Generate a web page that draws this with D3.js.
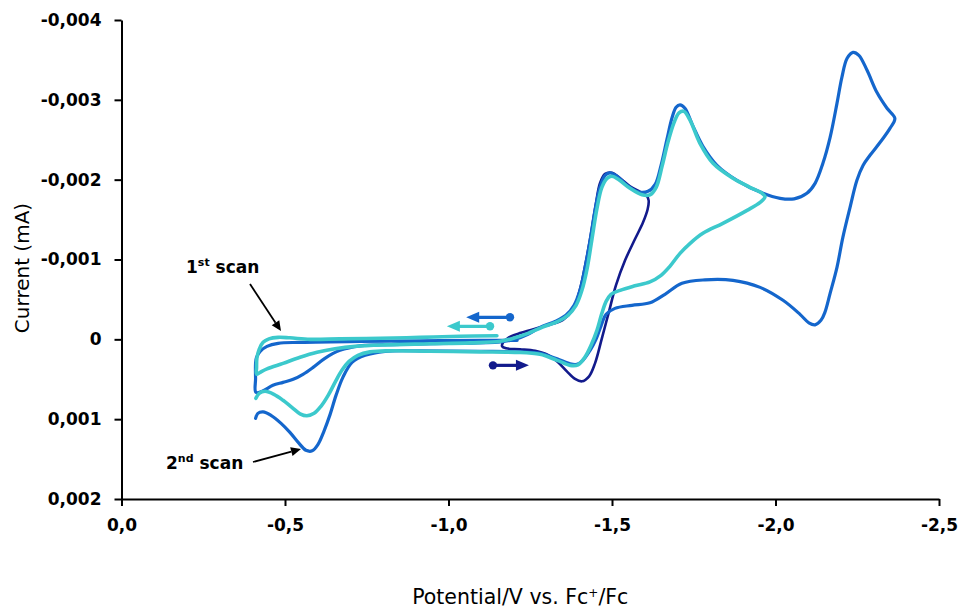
<!DOCTYPE html>
<html>
<head>
<meta charset="utf-8">
<script src="https://cdn.jsdelivr.net/npm/d3@7"></script>
<style>
  html, body { margin: 0; padding: 0; background: #fff; }
  svg { display: block; }
</style>
</head>
<body>
<svg id="chart" width="959" height="609"></svg>
<script>
// ---------------- data (potential in V vs Fc+/Fc, current in mA) ----------------
const xTicks = [0, -0.5, -1.0, -1.5, -2.0, -2.5];
const yTicks = [-0.004, -0.003, -0.002, -0.001, 0, 0.001, 0.002];

// scan reversed at -1.6 V
const navyScan = [
[-1.179,-0.000006],[-1.167,0.000038],[-1.164,0.000088],[-1.176,0.000113],[-1.219,0.000125],[-1.265,0.000144],[-1.304,0.000194],[-1.335,0.000288],[-1.362,0.000401],[-1.387,0.000495],[-1.408,0.000526],[-1.430,0.000463],[-1.448,0.000301],[-1.469,-0.000013],[-1.491,-0.000351],[-1.512,-0.000676],[-1.540,-0.000990],[-1.570,-0.001253],[-1.595,-0.001466],[-1.609,-0.001629],[-1.612,-0.001741],[-1.604,-0.001810],[-1.586,-0.001848],[-1.555,-0.001917],[-1.525,-0.002017],[-1.500,-0.002086],[-1.479,-0.002073],[-1.463,-0.001954],[-1.451,-0.001704],[-1.436,-0.001328],[-1.421,-0.000990],[-1.402,-0.000626],[-1.381,-0.000376],[-1.350,-0.000244],[-1.310,-0.000182],[-1.265,-0.000132],[-1.222,-0.000081],[-1.194,-0.000044],[-1.179,-0.000006]
];

// scan reversed at -2.36 V
const blueScan = [
[-1.210,0.000013],[-1.096,0.000013],[-0.913,0.000019],[-0.729,0.000025],[-0.546,0.000038],[-0.479,0.000050],[-0.445,0.000088],[-0.424,0.000150],[-0.413,0.000225],[-0.410,0.000300],
[-0.410,0.000489],[-0.411,0.000664],
[-0.430,0.000651],[-0.463,0.000576],[-0.494,0.000539],[-0.525,0.000501],[-0.555,0.000438],[-0.586,0.000351],[-0.622,0.000238],[-0.668,0.000138],[-0.729,0.000081],[-0.852,0.000063],[-1.005,0.000050],[-1.158,0.000031],[-1.203,0.000000],[-1.243,-0.000063],[-1.280,-0.000150],[-1.326,-0.000225],[-1.359,-0.000301],[-1.384,-0.000426],[-1.402,-0.000614],[-1.417,-0.000889],[-1.433,-0.001240],[-1.448,-0.001616],[-1.463,-0.001904],[-1.479,-0.002054],[-1.494,-0.002086],[-1.512,-0.002054],[-1.546,-0.001929],[-1.580,-0.001848],[-1.610,-0.001854],[-1.632,-0.001942],[-1.650,-0.002180],[-1.668,-0.002505],[-1.684,-0.002781],[-1.696,-0.002906],[-1.708,-0.002938],[-1.723,-0.002894],[-1.748,-0.002668],[-1.778,-0.002418],[-1.821,-0.002180],[-1.882,-0.001992],[-1.962,-0.001829],[-2.014,-0.001766],[-2.057,-0.001760],[-2.096,-0.001829],[-2.121,-0.001954],[-2.145,-0.002205],[-2.167,-0.002530],[-2.188,-0.002956],[-2.203,-0.003282],[-2.219,-0.003520],[-2.237,-0.003595],[-2.255,-0.003558],[-2.280,-0.003370],[-2.310,-0.003094],[-2.341,-0.002894],[-2.365,-0.002768],[-2.350,-0.002643],[-2.320,-0.002468],[-2.289,-0.002305],[-2.268,-0.002180],[-2.249,-0.001992],[-2.228,-0.001654],[-2.206,-0.001278],[-2.188,-0.000902],[-2.167,-0.000576],[-2.151,-0.000338],[-2.139,-0.000238],[-2.121,-0.000182],[-2.102,-0.000207],[-2.075,-0.000313],[-2.023,-0.000489],[-1.953,-0.000651],[-1.870,-0.000739],[-1.784,-0.000745],[-1.714,-0.000702],[-1.662,-0.000564],[-1.616,-0.000457],[-1.561,-0.000426],[-1.509,-0.000388],[-1.482,-0.000313],[-1.466,-0.000163],[-1.451,0.000000],[-1.433,0.000138],[-1.411,0.000263],[-1.393,0.000313],[-1.372,0.000307],[-1.332,0.000244],[-1.280,0.000175],[-1.219,0.000157],[-1.096,0.000150],[-0.913,0.000144],[-0.806,0.000150],[-0.745,0.000200],[-0.705,0.000288],[-0.677,0.000476],[-0.656,0.000702],[-0.638,0.000940],[-0.619,0.001152],[-0.601,0.001315],[-0.583,0.001397],[-0.564,0.001390],[-0.543,0.001303],[-0.515,0.001165],[-0.488,0.001052],[-0.457,0.000952],[-0.433,0.000908],[-0.417,0.000927],[-0.410,0.000990]
];

// scan reversed at -1.96 V
const tealScan = [
[-1.148,-0.000044],[-1.035,-0.000038],[-0.913,-0.000025],[-0.791,-0.000013],[-0.668,-0.000006],[-0.577,0.000000],[-0.515,-0.000019],[-0.479,-0.000025],[-0.451,-0.000006],[-0.433,0.000038],[-0.421,0.000125],[-0.414,0.000238],[-0.413,0.000351],[-0.413,0.000438],
[-0.424,0.000413],[-0.445,0.000370],[-0.494,0.000301],[-0.546,0.000225],[-0.598,0.000163],[-0.653,0.000119],[-0.714,0.000088],[-0.806,0.000069],[-0.943,0.000056],[-1.066,0.000044],[-1.158,0.000025],[-1.203,-0.000019],[-1.243,-0.000075],[-1.286,-0.000150],[-1.335,-0.000225],[-1.365,-0.000301],[-1.390,-0.000426],[-1.408,-0.000614],[-1.424,-0.000889],[-1.439,-0.001265],[-1.454,-0.001641],[-1.469,-0.001904],[-1.485,-0.002017],[-1.500,-0.002042],[-1.521,-0.001998],[-1.555,-0.001892],[-1.592,-0.001810],[-1.616,-0.001810],[-1.635,-0.001904],[-1.653,-0.002167],[-1.671,-0.002468],[-1.690,-0.002718],[-1.705,-0.002837],[-1.720,-0.002856],[-1.739,-0.002743],[-1.769,-0.002455],[-1.809,-0.002205],[-1.870,-0.002017],[-1.922,-0.001904],[-1.959,-0.001829],[-1.968,-0.001785],[-1.953,-0.001716],[-1.913,-0.001616],[-1.839,-0.001453],[-1.778,-0.001328],[-1.739,-0.001203],[-1.708,-0.001077],[-1.677,-0.000914],[-1.650,-0.000802],[-1.616,-0.000720],[-1.570,-0.000670],[-1.525,-0.000614],[-1.497,-0.000564],[-1.482,-0.000476],[-1.469,-0.000326],[-1.454,-0.000113],[-1.436,0.000075],[-1.417,0.000225],[-1.396,0.000319],[-1.372,0.000326],[-1.332,0.000263],[-1.280,0.000188],[-1.203,0.000163],[-1.096,0.000157],[-0.943,0.000150],[-0.821,0.000144],[-0.760,0.000157],[-0.723,0.000200],[-0.696,0.000276],[-0.674,0.000388],[-0.653,0.000539],[-0.632,0.000702],[-0.610,0.000839],[-0.589,0.000927],[-0.567,0.000958],[-0.546,0.000933],[-0.521,0.000852],[-0.494,0.000764],[-0.466,0.000689],[-0.439,0.000651],[-0.421,0.000676],[-0.411,0.000739]
];

// starting-point / sweep-direction markers: [startE, endE, current]
const blueStart = [-1.188, -1.054, -0.000276];
const tealStart = [-1.127, -0.995, -0.000163];
const navyStart = [-1.136, -1.246, 0.000326];

// ---------------- styles ----------------
const COLORS = { navy: "#121a8c", blue: "#1466cc", teal: "#3cc9cc" };
const WIDTHS = { navy: 2.6, blue: 3.2, teal: 3.6 };
const TICK_FONT = "'DejaVu Sans', sans-serif";

// ---------------- layout ----------------
const W = 959, H = 609;
const margin = { top: 20, right: 20, bottom: 110, left: 121.5 };
const svg = d3.select("#chart");

const x = d3.scaleLinear().domain([0, -2.5]).range([margin.left, W - margin.right]);
const y = d3.scaleLinear().domain([-0.004, 0.002]).range([margin.top, H - margin.bottom]);

const fmt = (d, n) => (d < 0 ? "-" : "") + Math.abs(d).toFixed(n).replace(".", ",");

// axes
const gx = svg.append("g")
  .attr("transform", `translate(0,${y(0.002)})`)
  .call(d3.axisBottom(x).tickValues(xTicks).tickFormat(d => fmt(d, 1))
        .tickSize(7).tickSizeOuter(0).tickPadding(13));
const gy = svg.append("g")
  .attr("transform", `translate(${x(0)},0)`)
  .call(d3.axisLeft(y).tickValues(yTicks).tickFormat(d => d === 0 ? "0" : fmt(d, 3))
        .tickSize(7).tickSizeOuter(0).tickPadding(13));
[gx, gy].forEach(g => {
  g.select(".domain").attr("stroke", "#000").attr("stroke-width", 2);
  g.selectAll(".tick line").attr("stroke", "#000").attr("stroke-width", 2);
  g.selectAll(".tick text").attr("fill", "#000")
    .style("font-family", TICK_FONT).style("font-weight", "bold").style("font-size", "17px");
});

// curves
const line = d3.line().x(d => x(d[0])).y(d => y(d[1])).curve(d3.curveCatmullRom.alpha(0.5));
const series = [
  { key: "navy", data: navyScan },
  { key: "blue", data: blueScan },
  { key: "teal", data: tealScan }
];
svg.append("g").selectAll("path").data(series).join("path")
  .attr("d", d => line(d.data))
  .attr("fill", "none")
  .attr("stroke", d => COLORS[d.key])
  .attr("stroke-width", d => WIDTHS[d.key])
  .attr("stroke-linejoin", "round").attr("stroke-linecap", "round");

// start markers (dot + arrow)
function startMarker(m, color) {
  const g = svg.append("g");
  const x0 = x(m[0]), x1 = x(m[1]), yy = y(m[2]);
  const dir = Math.sign(x1 - x0);
  g.append("line").attr("x1", x0).attr("y1", yy).attr("x2", x1 - dir * 9).attr("y2", yy)
    .attr("stroke", color).attr("stroke-width", 3.2);
  g.append("circle").attr("cx", x0).attr("cy", yy).attr("r", 4.2).attr("fill", color);
  g.append("path")
    .attr("d", `M${x1},${yy} L${x1 - dir * 13},${yy - 5.5} L${x1 - dir * 13},${yy + 5.5} Z`)
    .attr("fill", color);
}
startMarker(blueStart, COLORS.blue);
startMarker(tealStart, COLORS.teal);
startMarker(navyStart, COLORS.navy);

// annotations
const ann = svg.append("g").style("font-family", TICK_FONT).style("font-weight", "bold")
  .style("font-size", "17px").attr("fill", "#000");
const t1 = ann.append("text").attr("x", 186).attr("y", 273);
t1.append("tspan").text("1");
t1.append("tspan").attr("dy", -7).style("font-size", "11px").text("st");
t1.append("tspan").attr("dy", 7).text(" scan");
const t2 = ann.append("text").attr("x", 166).attr("y", 469);
t2.append("tspan").text("2");
t2.append("tspan").attr("dy", -7).style("font-size", "11px").text("nd");
t2.append("tspan").attr("dy", 7).text(" scan");

function pointer(xa, ya, xb, yb) {
  const ang = Math.atan2(yb - ya, xb - xa);
  const L = 10, Wd = 4.5;
  const bx = xb - L * Math.cos(ang), by = yb - L * Math.sin(ang);
  svg.append("line").attr("x1", xa).attr("y1", ya).attr("x2", bx).attr("y2", by)
    .attr("stroke", "#000").attr("stroke-width", 1.8);
  svg.append("path").attr("d",
    `M${xb},${yb} L${bx + Wd * Math.sin(ang)},${by - Wd * Math.cos(ang)} L${bx - Wd * Math.sin(ang)},${by + Wd * Math.cos(ang)} Z`)
    .attr("fill", "#000");
}
pointer(250, 284, 281, 331);
pointer(253, 462, 301, 449);

// axis titles
svg.append("text")
  .attr("transform", `translate(29,${268}) rotate(-90)`)
  .attr("text-anchor", "middle")
  .style("font-family", TICK_FONT).style("font-size", "20px").attr("fill", "#000")
  .text("Current (mA)");
const xt = svg.append("text")
  .attr("x", (margin.left + W - margin.right) / 2 - 10).attr("y", 604)
  .attr("text-anchor", "middle")
  .style("font-family", TICK_FONT).style("font-size", "20.5px").attr("fill", "#000");
xt.append("tspan").text("Potential/V vs. Fc");
xt.append("tspan").attr("dy", -7).style("font-size", "12px").text("+");
xt.append("tspan").attr("dy", 7).text("/Fc");
</script>
</body>
</html>
